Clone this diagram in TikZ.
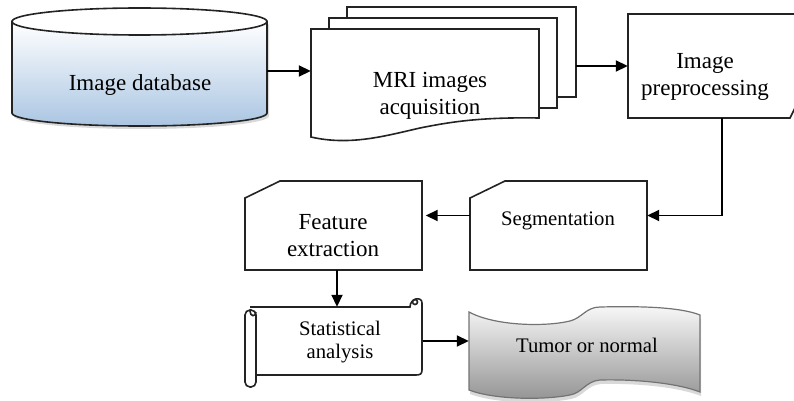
\documentclass[tikz,border=0pt]{standalone}
\usepackage{fontspec}
\setmainfont{Liberation Serif}
\usetikzlibrary{arrows.meta,shadows}

\definecolor{dbblue}{RGB}{170,197,226}
\definecolor{edge}{RGB}{35,35,35}

\tikzset{
  frame/.style={draw=none, inner sep=0pt},
  outline/.style={draw=edge, line width=1.6pt},
  lbl/.style={align=center, inner sep=0pt, font=\fontsize{23}{27}\selectfont},
  lblsmall/.style={align=center, inner sep=0pt, font=\fontsize{20.7}{23.5}\selectfont},
  flow/.style={-{Triangle[length=12pt,width=11pt]}, line width=1.8pt},
}

\begin{document}
\begin{tikzpicture}[x=1pt,y=-1pt]
\useasboundingbox (0,0) rectangle (794,401);
\clip (0,0) rectangle (794,401);

% frames the arrows run between
\node[frame, minimum width=255pt, minimum height=98pt] (A) at (139.5,71) {};
\node[frame, minimum width=228pt, minimum height=89pt] (B) at (425,73.5) {};
\node[frame, minimum width=229pt, minimum height=90pt] (B3) at (461.5,52) {};
\node[frame, minimum width=188pt, minimum height=104pt] (C) at (722,66) {};
\node[frame, minimum width=177pt, minimum height=89pt] (D) at (558.5,225.5) {};
\node[frame, minimum width=177pt, minimum height=89pt] (E) at (337,225.5) {};
\node[frame, minimum width=167pt, minimum height=68pt] (F) at (339,341) {};
\node[frame, minimum width=231pt, minimum height=78pt] (G) at (584.5,351) {};

% image database
\shadedraw[outline, top color=white, bottom color=dbblue,
  drop shadow={shadow xshift=2pt, shadow yshift=-3pt, opacity=.3}]
  (12,21.5) -- (12,113) .. controls (12,120.2) and (69.1,126) .. (139.5,126)
  .. controls (209.9,126) and (267,120.2) .. (267,113) -- (267,21.5) -- cycle;
\draw[outline, fill=white] (139.5,21.5) ellipse [x radius=127.5, y radius=13.5];

% stack of MRI images
\draw[outline, fill=white] (347,7) rectangle (576,97);
\draw[outline, fill=white] (329,18) rectangle (557,108);
\draw[outline, fill=white] (311,29) -- (539,29) -- (539,118)
  .. controls (480,117) and (450,122) .. (420,128)
  .. controls (385,136) and (350,146) .. (311,137) -- cycle;

% preprocessing
\draw[outline, fill=white] (628,14) -- (830,14) -- (830,38) -- (790,118) -- (628,118) -- cycle;

% segmentation and features
\draw[outline, fill=white] (470,198) -- (505,181) -- (647,181) -- (647,270) -- (470,270) -- cycle;
\draw[outline, fill=white] (245,198) -- (280,181) -- (422,181) -- (422,270) -- (245,270) -- cycle;

% scroll
\draw[outline, fill=white] (250,307) -- (410,307)
  .. controls (410,298) and (422,296) .. (422,303) -- (422,370)
  .. controls (422,374) and (420,375) .. (416,375) -- (256,375);
\draw[outline, fill=white, rounded corners=5pt] (245,310) rectangle (256,387);
\draw[outline] (250,311) .. controls (250,317) and (256,317) .. (256,312);
\draw[outline] (415,302) circle [radius=2.5];

% result banner
\shadedraw[draw=black!55, line width=1.2pt, top color=black!3, bottom color=black!42,
  drop shadow={shadow xshift=1pt, shadow yshift=-4pt, opacity=.3}]
  (469,312) .. controls (495,326) and (545,327) .. (570,321)
  .. controls (582,318) and (586,307) .. (600,307)
  .. controls (640,306) and (680,307) .. (700,315) -- (700,392)
  .. controls (680,384) and (640,379) .. (600,380)
  .. controls (586,381) and (582,393) .. (570,395)
  .. controls (545,400) and (495,400) .. (469,390) -- cycle;

% texts
\node[lbl] (a) at (140,85) {Image database};
\node[lbl] (b) at (430,96) {MRI images\\acquisition};
\node[lbl] (c) at (705,77) {Image\\preprocessing};
\node[lblsmall] (d) at (558,221) {Segmentation};
\node[lbl] (e) at (333,236) {Feature\\extraction};
\node[lblsmall] (f) at (340,342) {Statistical\\analysis};
\node[lblsmall] (g) at (587,345) {Tumor or normal};

% flow
\draw[flow] (A.east) -- (A.east -| B.west);
\draw[flow] (B3.east |- C.west) -- (C.west);
\draw[flow] (C.south) |- ([yshift=10pt]D.east);
\draw[flow] ([yshift=10pt]D.west) -- ([yshift=10pt]E.east);
\draw[flow] (E.south) -- (E.south |- F.north);
\draw[flow] (F.east) -- (F.east -| G.west);

\end{tikzpicture}
\end{document}
